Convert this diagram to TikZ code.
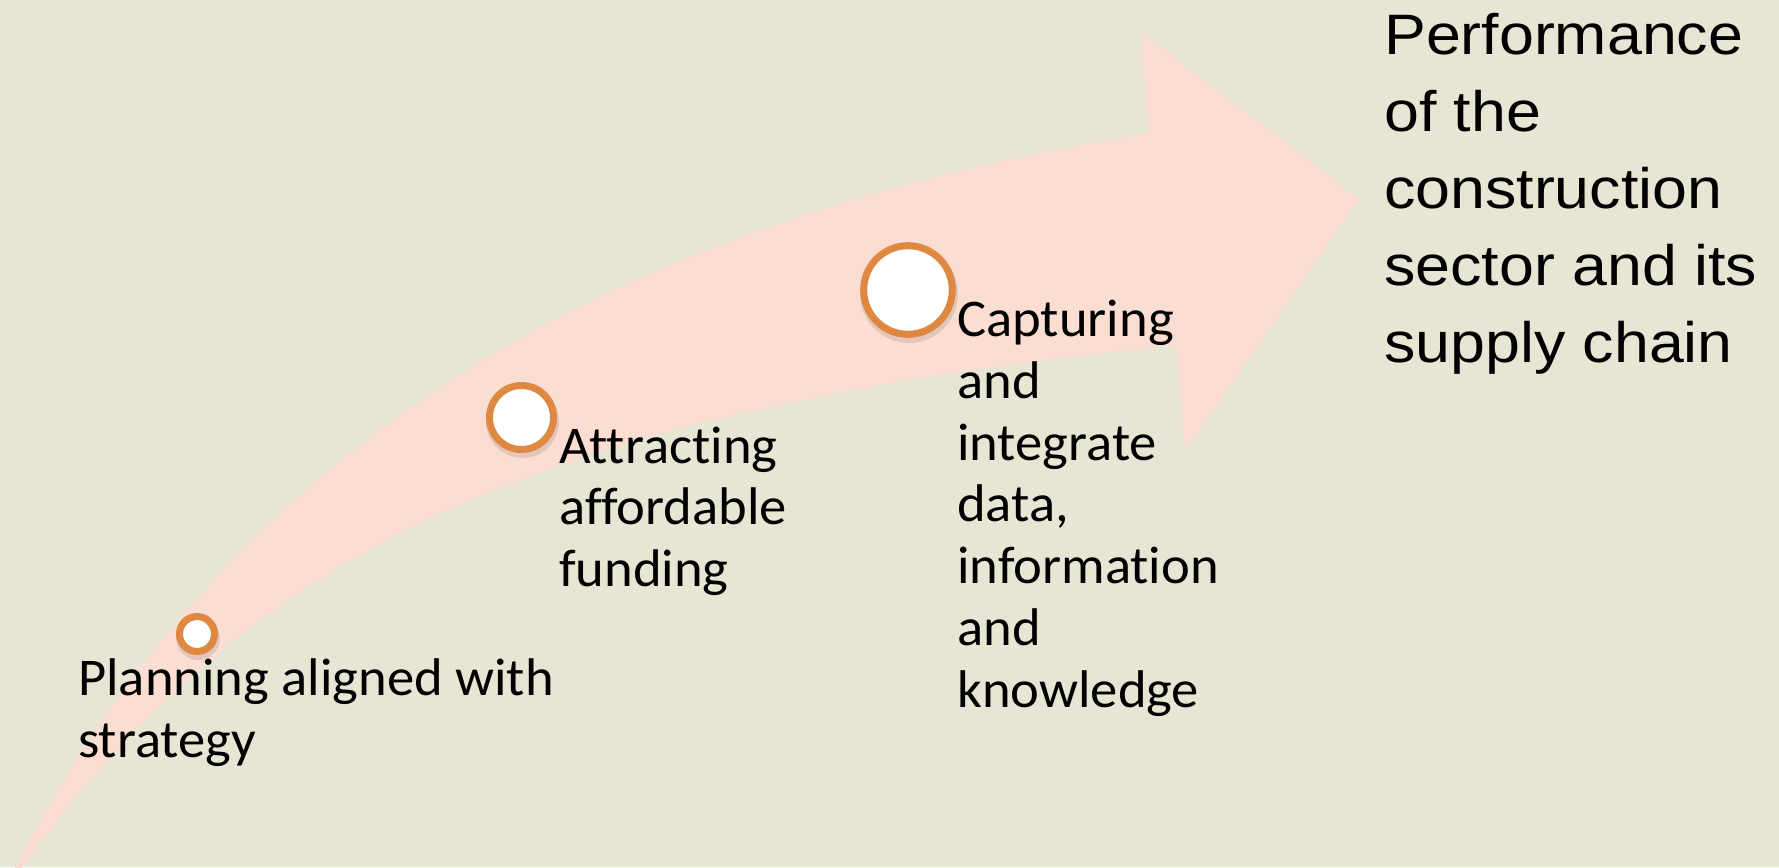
\documentclass[tikz,border=0pt]{standalone}
\usepackage{fontspec}
\newfontfamily\calibx[FakeStretch=1.03,Ligatures=NoCommon]{Carlito}
\newfontfamily\arialx[FakeStretch=1.1]{Liberation Sans}
\definecolor{bg}{HTML}{E7E6D5}
\definecolor{arrowpink}{HTML}{FCDDD1}
\definecolor{ringorange}{HTML}{DF8842}
\begin{document}
\begin{tikzpicture}[x=1pt,y=-1pt,
  stage/.style={circle, draw=ringorange, line width=7pt, fill=white, inner sep=0pt},
  ringshadow/.style={fill=black, opacity=0.10},
  lbl/.style={anchor=base west, inner sep=0pt, align=left, text=black,
    font=\calibx\fontsize{53}{61.7}\selectfont},
  goal/.style={anchor=base west, inner sep=0pt, align=left, text=black,
    font=\arialx\fontsize{57}{76.9}\selectfont}]
\useasboundingbox (0,0) rectangle (1779,867);
\fill[bg] (0,0) rectangle (1779,867);
% curved arrow
\fill[arrowpink] (9,880) .. controls (225,449) and (601,222) .. (1149,133)
  -- (1140,31) -- (1359,199) -- (1185,451) -- (1176,345)
  .. controls (540,411) and (249,545) .. (13,880) -- cycle;
% stages
\coordinate (p1) at (197,634);
\coordinate (p2) at (521.5,417.5);
\coordinate (p3) at (908,290);
\fill[ringshadow] ([shift={(1,4)}]p1) circle (22);
\fill[ringshadow] ([shift={(1,4)}]p2) circle (36.5);
\fill[ringshadow] ([shift={(1,4)}]p3) circle (49);
\node[stage, minimum size=35pt] (c1) at (p1) {};
\node[stage, minimum size=64pt] (c2) at (p2) {};
\node[stage, minimum size=88.6pt] (c3) at (p3) {};
% labels (anchored at the baseline of their last line)
\node[lbl] (t1) at (78,757) {Planning aligned with\\strategy};
\node[lbl] (t2) at (559,586.5) {Attracting\\affordable\\funding};
\node[lbl] (t3) at (957,707) {Capturing\\and\\integrate\\data,\\information\\and\\knowledge};
\node[goal] (t4) at (1384,362.5) {Performance\\of the\\construction\\sector and its\\supply chain};
\end{tikzpicture}
\end{document}
